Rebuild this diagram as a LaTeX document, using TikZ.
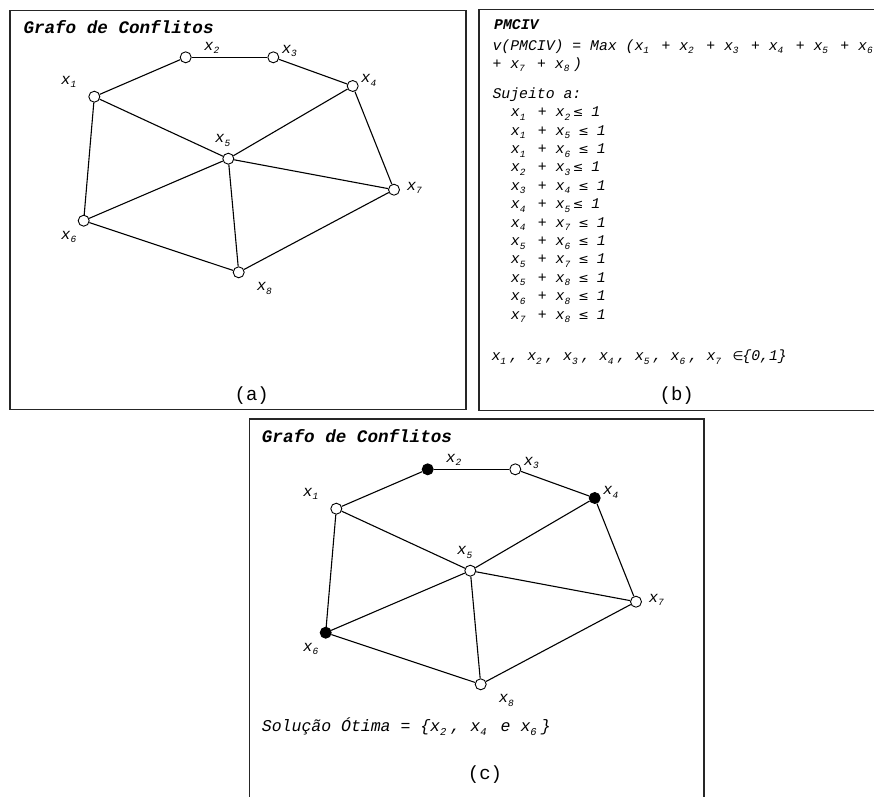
\documentclass[tikz,border=0pt]{standalone}
\usepackage{fontspec}
\newfontfamily\cour{Liberation Mono}
\newfontfamily\symf{DejaVu Sans}
\newcommand\sbx[1]{\makebox[9.2pt][l]{\raisebox{-3.5pt}{\fontsize{9.5}{9.5}\selectfont #1}}}
\newcommand\xs[1]{x\sbx{#1}}
\newcommand\sbxb[1]{\makebox[10.5pt][l]{\raisebox{-4pt}{\fontsize{10.5}{10.5}\selectfont #1}}}
\newcommand\xsb[1]{x\sbxb{#1}}
\newcommand\leqc{\makebox[8.9pt][c]{\symf\fontsize{12.5}{12.5}\selectfont ≤}}
\newcommand\inc{\makebox[8.9pt][c]{\symf\fontsize{12.5}{12.5}\selectfont ∈}}
\tikzset{
  panel/.style={line width=1.3pt, draw=black!85},
  vtx/.style={circle, draw, fill=white, inner sep=0pt, minimum size=11pt, line width=0.9pt},
  sel/.style={vtx, fill=black},
  edge/.style={line width=1.1pt},
  lbl/.style={anchor=base west, inner sep=0pt, font=\cour\itshape\fontsize{15.5}{15.5}\selectfont},
  txt/.style={anchor=base west, inner sep=0pt, font=\cour\itshape\fontsize{14.8}{14.8}\selectfont},
  txtb/.style={anchor=base west, inner sep=0pt, font=\cour\bfseries\itshape\fontsize{14.8}{14.8}\selectfont},
  sol/.style={anchor=base west, inner sep=0pt, font=\cour\itshape\fontsize{16.5}{16.5}\selectfont},
  ttl/.style={anchor=base west, inner sep=0pt, font=\cour\bfseries\itshape\fontsize{17.6}{17.6}\selectfont},
  capt/.style={anchor=base, inner sep=0pt, font=\cour\fontsize{19}{19}\selectfont},
}
\newcommand\confgraph[4]{%
  \node[vtx] (#1x1) at (94.3,96.7) {};
  \node[#2]  (#1x2) at (185.7,57.3) {};
  \node[vtx] (#1x3) at (273.3,57.3) {};
  \node[#3]  (#1x4) at (352.7,86) {};
  \node[vtx] (#1x5) at (228.3,158.7) {};
  \node[#4]  (#1x6) at (83.7,220.7) {};
  \node[vtx] (#1x7) at (394,189.7) {};
  \node[vtx] (#1x8) at (238.7,272.3) {};
  \draw[edge] (#1x1) -- (#1x2);
  \draw[edge] (#1x2) -- (#1x3);
  \draw[edge] (#1x3) -- (#1x4);
  \draw[edge] (#1x1) -- (#1x5);
  \draw[edge] (#1x1) -- (#1x6);
  \draw[edge] (#1x4) -- (#1x5);
  \draw[edge] (#1x4) -- (#1x7);
  \draw[edge] (#1x5) -- (#1x6);
  \draw[edge] (#1x5) -- (#1x7);
  \draw[edge] (#1x5) -- (#1x8);
  \draw[edge] (#1x6) -- (#1x8);
  \draw[edge] (#1x7) -- (#1x8);
  \node[lbl] (#1l1) at (61,84) {\xs1};
  \node[lbl] (#1l2) at (204,50) {\xs2};
  \node[lbl] (#1l3) at (281.7,53.3) {\xs3};
  \node[lbl] (#1l4) at (361,82.7) {\xs4};
  \node[lbl] (#1l5) at (215,142.7) {\xs5};
  \node[lbl] (#1l6) at (61,239.3) {\xs6};
  \node[lbl] (#1l7) at (406.7,190) {\xs7};
  \node[lbl] (#1l8) at (256.7,290.7) {\xs8};
}
\begin{document}
\begin{tikzpicture}[x=1pt,y=-1pt]
\useasboundingbox (0,0) rectangle (874,796);
\clip (0,0) rectangle (874,796);
\fill[white] (0,0) rectangle (874,796);
% panel (a)
\draw[panel] (10,10.7) rectangle (466,409.3);
\node[ttl] (ta) at (23.3,33.3) {Grafo de Conflitos};
\confgraph{a}{vtx}{vtx}{vtx}
\node[capt] (capa) at (251.7,400) {(a)};
% panel (b)
\draw[panel] (880,9.3) -- (479,9.3) -- (479,410.5) -- (880,410.5);
\node[txtb] (bh) at (494,29.3) {PMCIV};
\node[txt] (b1) at (492.3,50) {v(PMCIV) = Max (\xs1 + \xs2 + \xs3 + \xs4 + \xs5 + \xs6};
\node[txt] (b2) at (492.3,68) {+ \xs7 + \xs8)};
\node[txt] (b3) at (492.3,98) {Sujeito a:};
\node[txt] (c01) at (510.7,116.7) {\xs1 + \xs2\leqc{} 1};
\node[txt] (c02) at (510.7,135.1) {\xs1 + \xs5\hspace{5.5pt}\leqc{} 1};
\node[txt] (c03) at (510.7,153.5) {\xs1 + \xs6\hspace{5.5pt}\leqc{} 1};
\node[txt] (c04) at (510.7,171.9) {\xs2 + \xs3\leqc{} 1};
\node[txt] (c05) at (510.7,190.3) {\xs3 + \xs4\hspace{5.5pt}\leqc{} 1};
\node[txt] (c06) at (510.7,208.7) {\xs4 + \xs5\leqc{} 1};
\node[txt] (c07) at (510.7,227.1) {\xs4 + \xs7\hspace{5.5pt}\leqc{} 1};
\node[txt] (c08) at (510.7,245.5) {\xs5 + \xs6\hspace{5.5pt}\leqc{} 1};
\node[txt] (c09) at (510.7,263.9) {\xs5 + \xs7\hspace{5.5pt}\leqc{} 1};
\node[txt] (c10) at (510.7,282.3) {\xs5 + \xs8\hspace{5.5pt}\leqc{} 1};
\node[txt] (c11) at (510.7,300.7) {\xs6 + \xs8\hspace{5.5pt}\leqc{} 1};
\node[txt] (c12) at (510.7,319.1) {\xs7 + \xs8\hspace{5.5pt}\leqc{} 1};
\node[txt] (b4) at (491.3,360.7) {\xs1, \xs2, \xs3, \xs4, \xs5, \xs6, \xs7 \inc\{0,1\}};
\node[capt] (capb) at (676.7,400.5) {(b)};
% panel (c)
\draw[panel] (249.3,800) -- (249.3,419) -- (704,419) -- (704,800);
\node[ttl] (tc) at (261.7,442.3) {Grafo de Conflitos};
\begin{scope}[shift={(242,412)}]
\confgraph{c}{sel}{sel}{sel}
\end{scope}
\node[sol] (solc) at (261.7,731.7) {Solução Ótima = \{\xsb2, \xsb4 e \xsb6\}};
\node[capt] (capc) at (485,779) {(c)};
\end{tikzpicture}
\end{document}
